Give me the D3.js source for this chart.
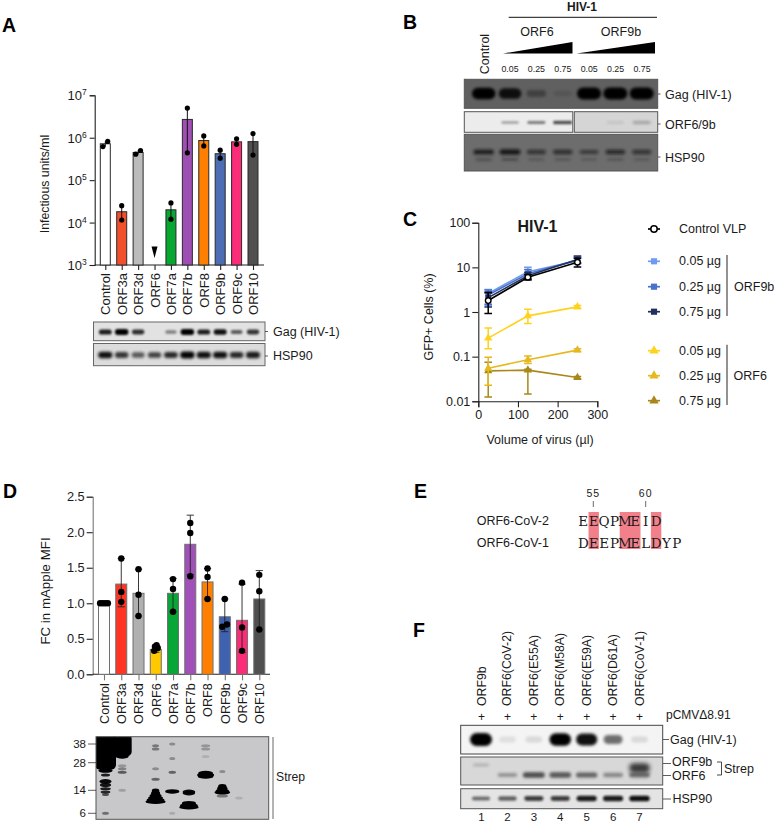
<!DOCTYPE html>
<html><head><meta charset="utf-8">
<script src="https://cdnjs.cloudflare.com/ajax/libs/d3/7.8.5/d3.min.js"></script>
<style>
html,body{margin:0;padding:0;background:#fff}
svg{display:block}
text{font-family:"Liberation Sans",Arial,sans-serif;fill:#1a1a1a}
</style></head><body>
<svg id="fig" width="778" height="824" viewBox="0 0 778 824"></svg>
<script>
// ---------- Panel A ----------
const catsA=["Control","ORF3a","ORF3d","ORF6","ORF7a","ORF7b","ORF8","ORF9b","ORF9c","ORF10"];
const colorsA=["#ffffff","#f2502c","#bcbcbc",null,"#06a832","#9f4fb4","#ff8000","#4d6db5","#fb2c78","#505050"];
const valsA=[7.2e5,1.8e4,4.5e5,null,2e4,2.7e6,8.6e5,4.2e5,8e5,8.1e5];
const ptsA=[[6.2e5,8.2e5],[1.15e4,2.5e4],[4.1e5,5e5],[],[1.2e4,2.9e4],[4.4e5,5e6],[6.4e5,1.1e6],[3.3e5,5.1e5],[7e5,9.4e5],[3.9e5,1.25e6]];
const ticksA=[3,4,5,6,7];
const gagA=[.8,1,.72,0,.4,1,.8,.85,.55,.7];
const hspA=[.85,.7,.55,.65,.75,.9,.85,.85,.75,.8];
// ---------- Panel B ----------
const lanesB=["Control","0.05","0.25","0.75","0.05","0.25","0.75"];
const gagB=[.92,.78,.3,.1,1,1,1];
const orfB=[0,.35,.5,.7,0,.15,.35];
const hspB=[.75,.8,.55,.6,.5,.65,.55];
// ---------- Panel C ----------
const xC=[25,125,250];
const ctrlC={name:"Control VLP",color:"#000000",vals:[1.8,6,13],lo:[.92,5.2,10.2],hi:[2.7,6.9,16]};
const orf9bC=[
 {name:"0.05 µg",color:"#6f9cf0",vals:[2.6,8,14],lo:[1.4,5.5,12],hi:[3.2,10,16.5]},
 {name:"0.25 µg",color:"#4a72c8",vals:[2.4,7.2,14.5],lo:[1.5,5.8,12.5],hi:[3.1,9,17]},
 {name:"0.75 µg",color:"#22305f",vals:[2.1,6.5,15],lo:[1.3,5.5,12.5],hi:[2.8,7.8,18]}];
const orf6C=[
 {name:"0.05 µg",color:"#ffd21f",vals:[.26,.82,1.3],lo:[.15,.55,1.2],hi:[.44,1.15,1.4]},
 {name:"0.25 µg",color:"#e6b820",vals:[.055,.085,.14],lo:[.023,.07,.13],hi:[.097,.104,.15]},
 {name:"0.75 µg",color:"#a8881a",vals:[.048,.05,.034],lo:[.0125,.0145,.032],hi:[.075,.052,.036]}];
const ticksCy=[.01,.1,1,10,100];
const ticksCx=[0,100,200,300];
// ---------- Panel D ----------
const catsD=catsA;
const colorsD=["#ffffff","#ff3423","#b0b0b0","#ffc800","#08a637","#a050b8","#ff8000","#3f62b0","#fb2c78","#505050"];
const valsD=[1,1.27,1.14,.35,1.14,1.83,1.3,.81,.76,1.06];
const hiD=[1.01,1.63,1.48,.41,1.35,2.24,1.49,1.06,1.27,1.46];
const loD=[.99,.95,.82,.31,.88,1.4,1.06,.6,.31,.63];
const ptsD=[[1,1,1,1],[1.02,1.16,1.63],[.82,1.12,1.48],[.33,.37,.39,.41],[.88,1.2,1.34],[1.38,1.99,2.13],[1.06,1.37,1.49],[.67,.7,1.06],[.33,.66,1.29],[.63,1.17,1.4]];
const ticksD=[0,.5,1,1.5,2,2.5];
const kDaD=[38,28,14,6];
// lane, top kDa, bottom kDa, darkness
const strepSmearD=[[0,45,23.5,1],[1,45,31,1]];
// lane, kDa, size, darkness
const strepD=[
 [0,23,.95,1],[0,20.5,.6,.85],[0,17.5,.8,.95],[0,16,.75,.9],[0,14.6,.7,.85],[0,13.2,.65,.8],[0,12,.45,.6],[0,6,.45,.45],
 [1,31,.85,1],[1,26,.55,.25],[1,24,.55,.35],[1,22,.6,.55],[1,14,.5,.2],
 [3,37,.45,.4],[3,35,.5,.4],[3,24,.45,.3],[3,18.5,.55,.5],[3,13.8,.5,1],[3,12.6,.6,1],[3,11.5,.8,1],[3,10.6,1,1],[3,9.8,1.2,1],[3,9.2,1.35,1],
 [4,38,.4,.3],[4,30,.4,.3],[4,22,.5,.5],[4,13.4,.95,1],[4,6,.4,.15],
 [5,13.2,.85,.95],[5,12.6,.8,.95],[5,8.7,.95,1],[5,8,1.2,1],[5,7.5,1.3,1],
 [6,21.6,1,1],[6,20.6,1.15,1],[6,19.8,1.05,1],[6,37,.6,.25],[6,35,.6,.25],[6,31,.5,.12],
 [7,22.5,.4,.3],[7,15.5,.55,1],[7,14.6,.7,1],[7,13.7,.9,1],[7,13,1.05,1],[7,11.3,.75,.4],
 [8,10.5,.5,.12]];
// ---------- Panel E ----------
const seq2="EEQPMEID";
const seq1="DEEPMELDYP";
// ---------- Panel F ----------
const lanesF=["ORF9b","ORF6(CoV-2)","ORF6(E55A)","ORF6(M58A)","ORF6(E59A)","ORF6(D61A)","ORF6(CoV-1)"];
const gagF=[1,.08,.1,.92,.85,.5,.1];
const orf9F=[.25,0,0,0,0,0,.8];
const orf6F=[0,.35,.7,.65,.6,.4,.55];
const hspF=[.5,.55,.7,.7,.85,.85,.9];

const svg=d3.select("#fig");
const defs=svg.append("defs");
[0.7,1,1.4,2].forEach(s=>defs.append("filter").attr("id","b"+String(s).replace(".","_"))
  .attr("x","-50%").attr("y","-150%").attr("width","200%").attr("height","400%")
  .append("feGaussianBlur").attr("stdDeviation",s));
const blurId=s=>"url(#b"+String(s).replace(".","_")+")";
let clipN=0;
function blot(x0,x1,y0,y1,bg,border,sw=1){
  const id="c"+(clipN++);
  defs.append("clipPath").attr("id",id).append("rect").attr("x",x0).attr("y",y0).attr("width",x1-x0).attr("height",y1-y0);
  const g=svg.append("g");
  g.append("rect").attr("x",x0).attr("y",y0).attr("width",x1-x0).attr("height",y1-y0).attr("fill",bg);
  const inner=g.append("g").attr("clip-path",`url(#${id})`);
  g.append("rect").attr("x",x0).attr("y",y0).attr("width",x1-x0).attr("height",y1-y0).attr("fill","none").attr("stroke",border).attr("stroke-width",sw);
  return inner;
}
function bands(g,xs,ys,vals,rw,rh,blur=1,color="#000"){
  const W=d=>2*rw*(.72+.28*d),H=d=>2*rh*(.4+.6*d);
  g.selectAll(null).data(vals).join("rect")
   .attr("x",(d,i)=>xs(i)-W(d)/2).attr("y",d=>ys-H(d)/2)
   .attr("width",W).attr("height",H).attr("rx",d=>H(d)/2)
   .attr("fill",color).attr("opacity",d=>Math.min(1,d*1.1)).attr("filter",blurId(blur));
}
function label(x,y,t,o={}){
  return svg.append("text").attr("x",x).attr("y",y).attr("dominant-baseline","central")
   .attr("text-anchor",o.anchor||"start").attr("font-size",o.size||12.5).attr("font-weight",o.weight||null).attr("transform",o.rot?`rotate(${o.rot} ${x} ${y})`:null).text(t);
}
function tickMark(x1,x2,y){svg.append("line").attr("x1",x1).attr("x2",x2).attr("y1",y).attr("y2",y).attr("stroke","#333").attr("stroke-width",.8);}
function styleAxis(g,color="#1a1a1a",fs=13){
  g.selectAll("path,line").attr("stroke",color).attr("stroke-width",1.1);
  g.selectAll("text").attr("font-size",fs).attr("fill","#1a1a1a");
}
[["A",2,25],["B",403,22],["C",403,219],["D",3,491],["E",414,491],["F",413,630]].forEach(d=>label(d[1],d[2],d[0],{size:19.5,weight:"bold"}).style("fill","#000"));

// ===== A =====
{
 const x=d3.scalePoint().domain(catsA).range([105.3,253]);
 const y=d3.scaleLog().domain([1e3,1e7]).range([265,95.3]);
 const gy=svg.append("g").attr("transform","translate(94.7,0)").call(d3.axisLeft(y).tickValues(ticksA.map(e=>10**e)).tickSize(5).tickFormat(()=>""));
 styleAxis(gy,"#222");
 gy.selectAll(".tick").each(function(d){
   const t=d3.select(this).append("text").attr("x",-8).attr("y",4.5).attr("text-anchor","end").attr("font-size",13).attr("fill","#1a1a1a");
   t.append("tspan").text("10");
   t.append("tspan").attr("dy",-5).attr("font-size",8.5).text(Math.round(Math.log10(d)));
 });
 const gx=svg.append("g").attr("transform","translate(0,265)").call(d3.axisBottom(x).tickSize(5).tickSizeOuter(0));
 gx.select("path").attr("d","M94.7,0H264");
 styleAxis(gx,"#222");
 gx.selectAll("text").attr("transform","rotate(-90)").attr("x",-8).attr("y",0).attr("dy","0.35em").attr("text-anchor","end").attr("font-size",13);
 const bw=10;
 svg.append("g").selectAll("rect").data(catsA.filter((c,i)=>valsA[i]!=null)).join("rect")
  .attr("x",c=>x(c)-bw/2).attr("width",bw)
  .attr("y",c=>y(valsA[catsA.indexOf(c)])).attr("height",c=>265-y(valsA[catsA.indexOf(c)]))
  .attr("fill",c=>colorsA[catsA.indexOf(c)]).attr("stroke","#2a2a2a").attr("stroke-width",1);
 const er=svg.append("g");
 catsA.forEach((c,i)=>{ if(!ptsA[i].length)return;
  const e=d3.extent(ptsA[i]);
  er.append("line").attr("x1",x(c)).attr("x2",x(c)).attr("y1",y(e[0])).attr("y2",y(e[1])).attr("stroke","#111").attr("stroke-width",1);
  ptsA[i].forEach((p,k)=>er.append("circle").attr("cx",x(c)+(i==0||i==2?(k?2.4:-2.4):0)).attr("cy",y(p)).attr("r",2.6).attr("fill","#000"));
 });
 svg.append("path").attr("d",d3.line()([[x("ORF6")-3,246.5],[x("ORF6")+3,246.5],[x("ORF6"),258]])).attr("fill","#000");
 label(45,184,"Infectious units/ml",{rot:-90,anchor:"middle",size:12.3});
 const xi=i=>x(catsA[i]);
 let g=blot(93.5,265,322,340.7,"#e2e2e2","#666");
 bands(g,xi,332,gagA,6.8,2.9,1);
 g=blot(93.5,265,343.5,365.7,"#dcdcdc","#666");
 bands(g,xi,355,hspA,7.4,3.6,1.4,"#000");
 tickMark(265,268,331.5);tickMark(265,268,356);
 label(273,331.5,"Gag (HIV-1)",{size:12.5});
 label(273,356,"HSP90",{size:12.5});
}
// ===== B =====
{
 svg.append("line").attr("x1",508.7).attr("x2",657).attr("y1",17.3).attr("y2",17.3).attr("stroke","#111");
 label(582,6.5,"HIV-1",{anchor:"middle",weight:"bold",size:12});
 label(537,31.5,"ORF6",{anchor:"middle",size:12.5});
 label(621,31.5,"ORF9b",{anchor:"middle",size:12.5});
 svg.append("path").attr("d","M503,53.5L572.5,42V53.5Z").attr("fill","#000");
 svg.append("path").attr("d","M576.5,53.5L655,42V53.5Z").attr("fill","#000");
 label(485,54,lanesB[0],{rot:-90,anchor:"middle",size:12.5});
 const lx=d3.scalePoint().domain(d3.range(7)).range([483.7,641.7]);
 const tx=d3.scalePoint().domain(d3.range(1,7)).range([510,642]);
 d3.range(1,7).forEach(i=>label(tx(i),68.5,lanesB[i],{anchor:"middle",size:8.8}));
 let g=blot(464.3,657.7,79.3,108.3,"#606060","#555");
 bands(g,lx,93.5,gagB,12,6,1.4);
 g=blot(464.3,572.8,111.7,132.3,"#ececec","#555");
 bands(g,i=>lx(i),122.5,orfB.slice(0,4),10.5,2,1,"#222");
 g=blot(574.3,657.7,111.7,132.3,"#d5d5d5","#555");
 bands(g,i=>lx(i+4),122.5,orfB.slice(4),11,2.2,1.4,"#333");
 g=blot(464.3,657.7,134.3,171,"#6d6d6d","#555");
 bands(g,lx,152,hspB,11,3,1.4,"#111");
 bands(g,lx,159.5,hspB.map(d=>d*.5),10,2.2,1.4,"#222");
 [94,124,157].forEach(y=>tickMark(658,660.5,y));
 label(665,94.5,"Gag (HIV-1)",{size:12.5});
 label(665,125,"ORF6/9b",{size:12.5});
 label(665,157.5,"HSP90",{size:12.5});
}
// ===== C =====
{
 const x=d3.scaleLinear().domain([0,300]).range([478.3,597.3]);
 const y=d3.scaleLog().domain([.01,100]).range([401.3,222.7]);
 const gy=svg.append("g").attr("transform","translate(478.3,0)").call(d3.axisLeft(y).tickValues(ticksCy).tickFormat(d=>String(d)).tickSize(6));
 styleAxis(gy,"#222",12.5);gy.selectAll("text").attr("x",-8);
 const gx=svg.append("g").attr("transform","translate(0,401.3)").call(d3.axisBottom(x).tickValues(ticksCx).tickSize(6).tickFormat(d3.format("d")));
 styleAxis(gx,"#222",12.5);gx.selectAll("text").attr("y",9);
 const line=d3.line().x((d,i)=>x(xC[i])).y(d=>y(d));
 const drawSeries=(s,shape)=>{
  const g=svg.append("g");
  xC.forEach((v,i)=>{
   const X=x(v),cap=3.8;
   g.append("path").attr("d",`M${X-cap},${y(s.lo[i])}H${X+cap}M${X},${y(s.lo[i])}V${y(s.hi[i])}M${X-cap},${y(s.hi[i])}H${X+cap}`).attr("stroke",s.color).attr("stroke-width",1.5).attr("fill","none");
  });
  g.append("path").attr("d",line(s.vals)).attr("fill","none").attr("stroke",s.color).attr("stroke-width",1.6);
  g.selectAll(null).data(s.vals).join("path").attr("transform",(d,i)=>`translate(${x(xC[i])},${y(d)})`)
   .attr("d",d3.symbol().type(shape).size(30)()).attr("fill",s.color);
 };
 orf6C.slice().reverse().forEach(s=>drawSeries(s,d3.symbolTriangle));
 orf9bC.forEach(s=>drawSeries(s,d3.symbolSquare));
 {
  const s=ctrlC,g=svg.append("g");
  xC.forEach((v,i)=>{const X=x(v),cap=3.8;
   g.append("path").attr("d",`M${X-cap},${y(s.lo[i])}H${X+cap}M${X},${y(s.lo[i])}V${y(s.hi[i])}M${X-cap},${y(s.hi[i])}H${X+cap}`).attr("stroke","#000").attr("stroke-width",1.5).attr("fill","none");});
  g.append("path").attr("d",line(s.vals)).attr("fill","none").attr("stroke","#000").attr("stroke-width",1.7);
  g.selectAll(null).data(s.vals).join("circle").attr("cx",(d,i)=>x(xC[i])).attr("cy",d=>y(d)).attr("r",2.8).attr("fill","#fff").attr("stroke","#000").attr("stroke-width",1.4);
 }
 label(537.5,226.5,"HIV-1",{anchor:"middle",weight:"bold",size:16});
 label(429,317,"GFP+ Cells (%)",{rot:-90,anchor:"middle",size:12.5});
 label(540,440,"Volume of virus (µl)",{anchor:"middle",size:12.5});
 const lg=svg.append("g");
 const ly0=648,ly1=660;
 const ent=(y_,s,shape)=>{
  lg.append("line").attr("x1",ly0).attr("x2",ly1).attr("y1",y_).attr("y2",y_).attr("stroke",s.color).attr("stroke-width",1.7);
  if(shape) lg.append("path").attr("transform",`translate(${(ly0+ly1)/2},${y_})`).attr("d",d3.symbol().type(shape).size(38)()).attr("fill",s.color);
  else lg.append("circle").attr("cx",(ly0+ly1)/2).attr("cy",y_).attr("r",3.2).attr("fill","#fff").attr("stroke",s.color).attr("stroke-width",1.5);
  label(679,y_,s.name,{size:12.5});
 };
 ent(229,ctrlC,null);
 [261.3,286.7,311.7].forEach((yy,i)=>ent(yy,orf9bC[i],d3.symbolSquare));
 [350.7,375.7,400.7].forEach((yy,i)=>ent(yy,orf6C[i],d3.symbolTriangle));
 [[255,316],[344.7,405]].forEach(r=>lg.append("line").attr("x1",727).attr("x2",727).attr("y1",r[0]).attr("y2",r[1]).attr("stroke","#777").attr("stroke-width",1.6));
 label(734,287,"ORF9b",{size:12.5});
 label(733.5,376,"ORF6",{size:12.5});
}
// ===== D =====
{
 const x=d3.scalePoint().domain(catsD).range([104,259.3]);
 const y=d3.scaleLinear().domain([0,2.5]).range([674.3,496.7]);
 const gy=svg.append("g").attr("transform","translate(92.7,0)").call(d3.axisLeft(y).tickValues(ticksD).tickFormat(d3.format(".1f")).tickSize(6));
 styleAxis(gy,"#222",12.8);gy.selectAll("text").attr("x",-8);
 gy.select("path").attr("stroke","#777");
 const gx=svg.append("g").attr("transform","translate(0,674.3)").call(d3.axisBottom(x).tickSize(6).tickSizeOuter(0));
 gx.select("path").attr("d","M92.7,0H270");
 styleAxis(gx,"#222");
 gx.selectAll("line").attr("stroke","#777");
 gx.selectAll("text").attr("transform","rotate(-90)").attr("x",-9).attr("y",0).attr("dy","0.35em").attr("text-anchor","end").attr("font-size",12.6);
 const bw=11;
 svg.append("g").selectAll("rect").data(catsD).join("rect")
  .attr("x",c=>x(c)-bw/2).attr("width",bw)
  .attr("y",(c,i)=>y(valsD[i])).attr("height",(c,i)=>674.3-y(valsD[i]))
  .attr("fill",(c,i)=>colorsD[i]).attr("stroke","#707070").attr("stroke-width",1);
 const er=svg.append("g");
 catsD.forEach((c,i)=>{
  const X=x(c),cap=3.6;
  er.append("path").attr("d",`M${X-cap},${y(loD[i])}H${X+cap}M${X},${y(loD[i])}V${y(hiD[i])}M${X-cap},${y(hiD[i])}H${X+cap}`).attr("stroke","#222").attr("stroke-width",.9).attr("fill","none");
  ptsD[i].forEach((p,k)=>{
   let dx=0;
   if(i==0) dx=(k-1.5)*2.6;
   if(i==3) dx=[-1.6,2,-.8,.8][k];
   if(i==7) dx=[-2.5,2.2,0][k];
   er.append("circle").attr("cx",X+dx).attr("cy",y(p)).attr("r",3.2).attr("fill","#000");
  });
 });
 label(45,591,"FC in mApple MFI",{rot:-90,anchor:"middle",size:13.3});
 const gb=blot(96,268.7,736.7,819.3,"#c8c8ca","#555",1);
 const ky=d3.scaleLog().domain(kDaD).range([744,762.7,790.3,813.3]);
 const lx=d3.scalePoint().domain(d3.range(9)).range([105.5,239]);
 gb.selectAll(null).data(strepSmearD).join("rect")
  .attr("x",d=>lx(d[0])-(d[0]?9.5:10.5)).attr("width",d=>d[0]?19:21).attr("rx",5)
  .attr("y",d=>ky(d[1])).attr("height",d=>ky(d[2])-ky(d[1]))
  .attr("fill","#000").attr("opacity",d=>d[3]).attr("filter",blurId(.7));
 gb.selectAll(null).data(strepD).join("ellipse")
  .attr("cx",d=>lx(d[0])).attr("cy",d=>ky(d[1]))
  .attr("rx",d=>7.5*d[2]).attr("ry",d=>d[3]>=.9?2.3:1.5)
  .attr("fill","#000").attr("opacity",d=>d[3]).attr("filter",blurId(.7));
 kDaD.forEach((k,i)=>{
  label(86,ky(k),String(k),{anchor:"end",size:11.5});
  tickMark(88,96,ky(k));
 });
 svg.append("line").attr("x1",273).attr("x2",273).attr("y1",737).attr("y2",819).attr("stroke","#666").attr("stroke-width",1);
 label(276,777,"Strep",{size:12.2});
}
// ===== E =====
{
 const sx=d3.scaleLinear().domain([0,1]).range([583.3,593.7]);
 const pink=svg.append("g");
 [[1,1],[4,5],[7,7]].forEach(r=>pink.append("rect").attr("x",sx(r[0])-5.2).attr("width",sx(r[1])-sx(r[0])+10.4).attr("y",512).attr("height",37).attr("fill","#f2808a"));
 [[seq2,520.7],[seq1,542.7]].forEach(r=>{
  r[0].split("").forEach((c,i)=>svg.append("text").attr("x",sx(i)).attr("y",r[1]).attr("dominant-baseline","central").attr("text-anchor","middle").attr("font-size",13.5).style("font-family",'"DejaVu Serif","Liberation Serif",serif').text(c));
 });
 label(476.7,520.7,"ORF6-CoV-2",{size:12.5});
 label(476.7,542.7,"ORF6-CoV-1",{size:12.5});
 [[593.3,"55"],[645.7,"60"]].forEach(d=>{
  label(d[0],492.7,d[1],{anchor:"middle",size:10.5}).style("letter-spacing","1px");
  svg.append("line").attr("x1",d[0]).attr("x2",d[0]).attr("y1",501).attr("y2",507).attr("stroke","#444").attr("stroke-width",.8);
 });
}
// ===== F =====
{
 const lx=d3.scalePoint().domain(d3.range(7)).range([481,639.5]);
 lanesF.forEach((t,i)=>{
  const X=lx(i)+(i==0?.5:0);
  label(X,706,t,{rot:-90,size:12.3});
  label(X,716.5,"+",{anchor:"middle",size:12});
  label(X,816.5,String(i+1),{anchor:"middle",size:11.5});
 });
 label(666,714.5,"pCMVΔ8.91",{size:12});
 let g=blot(460.7,662.7,725.3,754,"#f4f4f4","#444");
 bands(g,lx,739.5,gagF,11,6.5,1.4);
 g=blot(460.7,662.7,757,785,"#d8d8d8","#555");
 bands(g,i=>lx(i),765,orf9F.slice(0,1),10,2.2,1.4,"#333");
 bands(g,i=>lx(6),768,orf9F.slice(6),11,5.5,2,"#222");
 bands(g,lx,775,orf6F,12,3.4,1.4,"#222");
 g=blot(460.7,662.7,788.7,808.7,"#e4e4e4","#555");
 bands(g,lx,798.5,hspF,10.5,3,1,"#111");
 tickMark(663,669,739.5);
 label(670,739.5,"Gag (HIV-1)",{size:12.5});
 tickMark(663,671,763.5);
 tickMark(663,671,775.5);
 label(672,762,"ORF9b",{size:12.5});
 label(672,776,"ORF6",{size:12.5});
 svg.append("path").attr("d","M717,762H721.5V775H717").attr("fill","none").attr("stroke","#333").attr("stroke-width",.9);
 label(724,768.5,"Strep",{size:12.5});
 tickMark(663,671,799);
 label(672.5,799,"HSP90",{size:12.5});
}
</script>
</body></html>
